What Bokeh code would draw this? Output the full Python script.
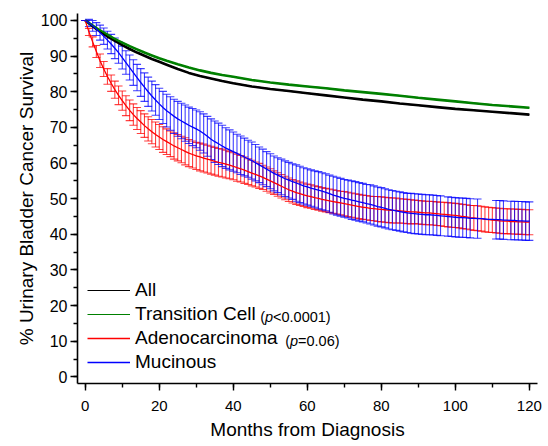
from bokeh.plotting import figure
from bokeh.models import (ColumnDataSource, Whisker, TeeHead, Legend, LegendItem,
                          Label, SingleIntervalTicker, Range1d)
from bokeh.embed import file_html
from bokeh.resources import INLINE

# ---------------- data ----------------
months = list(range(0, 121))

adeno_mean = [100, 96.8, 94.0, 91.3, 88.7, 86.4, 84.3, 82.4, 80.6, 79.0,
              77.5, 76.1, 74.8, 73.6, 72.5, 71.5, 70.5, 69.6, 68.8, 68.0,
              67.3, 66.6, 66.0, 65.4, 64.8, 64.3, 63.8, 63.3, 62.8, 62.4,
              62.0, 61.7, 61.4, 61.1, 60.8, 60.5, 60.2, 60.0, 59.7, 59.4,
              59.1, 58.7, 58.4, 58.0, 57.6, 57.2, 56.8, 56.4, 56.0, 55.5,
              55.0, 54.5, 54.0, 53.5, 53.0, 52.5, 52.1, 51.7, 51.4, 51.1,
              50.8, 50.6, 50.3, 50.1, 49.8, 49.6, 49.4, 49.2, 49.0, 48.8,
              48.6, 48.4, 48.2, 48.0, 47.8, 47.6, 47.5, 47.3, 47.2, 47.1,
              47.0, 46.9, 46.8, 46.7, 46.7, 46.6, 46.5, 46.4, 46.3, 46.3,
              46.2, 46.1, 46.0, 46.0, 45.9, 45.8, 45.7, 45.6, 45.5, 45.4,
              45.3, 45.2, 45.0, 44.9, 44.7, 44.6, 44.5, 44.4, 44.2, 44.1,
              44.0, 43.9, 43.8, 43.7, 43.7, 43.6, 43.6, 43.5, 43.5, 43.4,
              43.4]
adeno_ci = [0, 1.0, 1.4, 1.7, 1.9, 2.1, 2.2, 2.3, 2.4, 2.6,
            2.7, 2.8, 2.9, 3.0, 3.1, 3.2, 3.3, 3.4, 3.4, 3.5,
            3.5, 3.6, 3.6, 3.6, 3.7, 3.7, 3.7, 3.8, 3.8, 3.8,
            3.8, 3.9, 3.9, 3.9, 3.9, 3.9, 3.9, 3.9, 3.9, 3.8,
            3.8, 3.8, 3.7, 3.7, 3.6, 3.6, 3.5, 3.5, 3.4, 3.4,
            3.4, 3.3, 3.3, 3.3, 3.3, 3.3, 3.3, 3.3, 3.3, 3.3,
            3.3, 3.3, 3.3, 3.3, 3.3, 3.3, 3.3, 3.3, 3.3, 3.3,
            3.4, 3.4, 3.4, 3.4, 3.4, 3.4, 3.4, 3.4, 3.4, 3.5,
            3.5, 3.5, 3.5, 3.5, 3.5, 3.4, 3.4, 3.4, 3.4, 3.3,
            3.3, 3.3, 3.3, 3.3, 3.3, 3.3, 3.3, 3.4, 3.4, 3.4,
            3.4, 3.4, 3.4, 3.4, 3.4, 3.5, 3.5, 3.5, 3.5, 3.5,
            3.5, 3.5, 3.5, 3.5, 3.5, 3.5, 3.5, 3.5, 3.5, 3.5,
            3.5]

mucin_mean = [100, 99.3, 98.5, 97.6, 96.6, 95.6, 94.5, 93.4, 92.2, 91.0,
              89.6, 88.2, 86.8, 85.4, 84.0, 82.6, 81.3, 80.0, 78.8, 77.7,
              76.6, 75.6, 74.7, 73.9, 73.1, 72.4, 71.8, 71.2, 70.6, 70.1,
              69.6, 69.0, 68.3, 67.5, 66.7, 66.0, 65.4, 64.8, 64.2, 63.7,
              63.2, 62.7, 62.2, 61.7, 61.2, 60.7, 60.1, 59.5, 58.9, 58.3,
              57.7, 57.1, 56.6, 56.1, 55.6, 55.2, 54.8, 54.4, 54.0, 53.6,
              53.3, 53.0, 52.7, 52.4, 52.1, 51.8, 51.4, 51.0, 50.7, 50.4,
              50.1, 49.9, 49.6, 49.4, 49.1, 48.9, 48.6, 48.4, 48.1, 47.8,
              47.6, 47.3, 47.0, 46.8, 46.6, 46.4, 46.2, 46.0, 45.9, 45.8,
              45.7, 45.6, 45.5, 45.5, 45.4, 45.3, 45.2, 45.1, 45.0, 44.9,
              44.8, 44.7, 44.7, 44.6, 44.5, 44.5, 44.4, 44.4, 44.3, 44.2,
              44.2, 44.1, 44.1, 44.0, 44.0, 43.9, 43.9, 43.8, 43.8, 43.7,
              43.7]
mucin_ci = [0, 1.0, 1.5, 1.8, 2.1, 2.3, 2.5, 2.7, 2.9, 3.0,
            3.2, 3.3, 3.5, 3.6, 3.7, 3.9, 4.0, 4.1, 4.2, 4.3,
            4.4, 4.5, 4.6, 4.7, 4.8, 4.9, 5.0, 5.1, 5.1, 5.2,
            5.3, 5.4, 5.5, 5.6, 5.7, 5.8, 5.8, 5.8, 5.7, 5.6,
            5.5, 5.4, 5.4, 5.3, 5.2, 5.2, 5.1, 5.0, 5.0, 4.9,
            4.9, 4.9, 4.9, 5.0, 5.0, 5.0, 5.0, 5.1, 5.1, 5.1,
            5.1, 5.1, 5.1, 5.2, 5.2, 5.2, 5.2, 5.3, 5.3, 5.3,
            5.3, 5.3, 5.4, 5.4, 5.4, 5.4, 5.4, 5.5, 5.5, 5.5,
            5.5, 5.5, 5.5, 5.5, 5.5, 5.5, 5.5, 5.5, 5.6, 5.6,
            5.6, 5.6, 5.6, 5.6, 5.6, 5.6, 5.6, 5.6, 5.5, 5.5,
            5.5, 5.5, 5.5, 5.5, 5.5, 5.5, 5.5, 5.5, 5.4, 5.4,
            5.4, 5.4, 5.4, 5.4, 5.4, 5.4, 5.4, 5.4, 5.4, 5.4,
            5.4]
# months late in follow-up without a Mucinous event (no error bar drawn)
mucin_no_event = [97, 105, 107, 108, 109, 110, 114]

line_months = [0, 1, 2, 3, 4, 5, 6, 7, 8, 9, 10, 12, 14, 16, 18, 20, 22, 25,
               28, 31, 34, 37, 40, 45, 50, 55, 60, 65, 70, 75, 80, 85, 90, 95,
               100, 105, 110, 115, 120]
all_surv = [100, 99.2, 98.4, 97.6, 96.9, 96.2, 95.5, 94.9, 94.3, 93.7, 93.1,
            92.0, 91.0, 90.1, 89.2, 88.4, 87.6, 86.4, 85.3, 84.4, 83.7, 83.0,
            82.4, 81.5, 80.8, 80.2, 79.6, 79.0, 78.4, 77.8, 77.3, 76.7, 76.2,
            75.7, 75.2, 74.8, 74.4, 74.0, 73.6]
trans_surv = [100, 99.3, 98.6, 97.9, 97.2, 96.6, 96.0, 95.4, 94.8, 94.3, 93.8,
              92.8, 91.9, 91.0, 90.2, 89.4, 88.7, 87.7, 86.8, 86.0, 85.3, 84.7,
              84.2, 83.3, 82.6, 82.0, 81.5, 81.0, 80.4, 79.9, 79.4, 78.9, 78.3,
              77.8, 77.3, 76.8, 76.3, 75.9, 75.5]

series_labels = ["All", "Transition Cell", "Adenocarcinoma", "Mucinous"]
p_labels = [("Transition Cell", "<0.0001)"), ("Adenocarcinoma", "=0.06)")]

FONT = "Liberation Sans"
GREEN = "#008000"
RED = "#FF0000"
BLUE = "#0000FF"

# ---------------- figure ----------------
p = figure(width=548, height=446, output_backend="svg", toolbar_location=None,
           x_range=Range1d(-2.09, 122.2), y_range=Range1d(-1.85, 101.96),
           min_border_left=77, min_border_right=11, min_border_top=13,
           min_border_bottom=63)
p.outline_line_color = None
p.grid.visible = False
p.background_fill_color = "white"


def bar_source(mean, ci, skip=()):
    keep = [i for i, mo in enumerate(months) if mo not in skip]
    return ColumnDataSource(dict(m=[months[i] for i in keep],
                                 lo=[mean[i] - ci[i] for i in keep],
                                 hi=[mean[i] + ci[i] for i in keep]))


def line_source(xs, ys):
    return ColumnDataSource(dict(x=list(xs), y=list(ys)))


# thick curves + thin twins (thin twins give the thin legend glyphs)
p.line("x", "y", source=line_source(line_months, all_surv), line_color="black", line_width=2.6)
p.line("x", "y", source=line_source(line_months, trans_surv), line_color=GREEN, line_width=2.6)
r_all = p.line("x", "y", source=line_source(line_months, all_surv), line_color="black", line_width=1.2)
r_tr = p.line("x", "y", source=line_source(line_months, trans_surv), line_color=GREEN, line_width=1.2)

for src, col in ((bar_source(adeno_mean, adeno_ci), RED),
                 (bar_source(mucin_mean, mucin_ci, mucin_no_event), BLUE)):
    w = Whisker(source=src, base="m", upper="hi", lower="lo",
                line_color=col, line_width=1.1, line_alpha=0.75,
                upper_head=TeeHead(size=8, line_color=col, line_width=1.1, line_alpha=0.75),
                lower_head=TeeHead(size=8, line_color=col, line_width=1.1, line_alpha=0.75))
    p.add_layout(w)

r_ad = p.line("x", "y", source=line_source(months, adeno_mean), line_color=RED, line_width=1.3)
r_mu = p.line("x", "y", source=line_source(months, mucin_mean), line_color=BLUE, line_width=1.3)

legend = Legend(items=[LegendItem(label=lab, renderers=[r])
                       for lab, r in zip(series_labels, (r_all, r_tr, r_ad, r_mu))],
                location=(10, 9), padding=0, margin=0, spacing=0,
                glyph_width=43, glyph_height=24, label_height=24,
                label_standoff=5, label_text_font=FONT, label_text_font_size="19px",
                label_text_color="black",
                border_line_color=None, background_fill_alpha=0)
p.add_layout(legend, "center")


# p-value annotations (screen px -> data)
def px2x(px):
    return (px - 85.0) / 3.7025


def py2y(py):
    return (376.7 - py) / 3.57


for (mid_py, start_px, rest) in ((317.0, 260.0, p_labels[0][1]), (341.0, 285.0, p_labels[1][1])):
    fs = 14.5
    parts = [("(", "normal", 0.0), ("p", "italic", 0.333 * fs), (rest, "normal", 0.333 * fs + 0.556 * fs)]
    for txt, style, off in parts:
        p.add_layout(Label(x=px2x(start_px + off), y=py2y(mid_py), text=txt,
                           text_font=FONT, text_font_size=f"{fs}px", text_font_style=style,
                           text_baseline="middle", text_align="left", text_color="black"))

# axes
p.xaxis.ticker = SingleIntervalTicker(interval=20, num_minor_ticks=2)
p.yaxis.ticker = SingleIntervalTicker(interval=10, num_minor_ticks=2)
for ax in (p.xaxis[0], p.yaxis[0]):
    ax.axis_line_width = 1.6
    ax.axis_line_color = "black"
    ax.major_tick_line_width = 1.4
    ax.minor_tick_line_width = 1.4
    ax.major_tick_out = 7
    ax.major_tick_in = 0
    ax.minor_tick_out = 4
    ax.minor_tick_in = 0
    ax.major_tick_line_color = "black"
    ax.minor_tick_line_color = "black"
    ax.major_label_text_font = FONT
    ax.major_label_text_color = "black"
    ax.axis_label_text_font = FONT
    ax.axis_label_text_font_size = "19px"
    ax.axis_label_text_font_style = "normal"
    ax.axis_label_text_color = "black"
    ax.major_label_text_line_height = 1.0
    ax.axis_label_text_line_height = 1.0
p.xaxis.major_label_text_font_size = "15px"
p.yaxis.major_label_text_font_size = "16px"
p.xaxis.axis_label = "Months from Diagnosis"
p.yaxis.axis_label = "% Urinary Bladder Cancer Survival"
p.xaxis.major_label_standoff = 10
p.yaxis.major_label_standoff = 3
p.xaxis.axis_label_standoff = 5
p.yaxis.axis_label_standoff = 1

open("out.html", "w").write(file_html(p, INLINE))
